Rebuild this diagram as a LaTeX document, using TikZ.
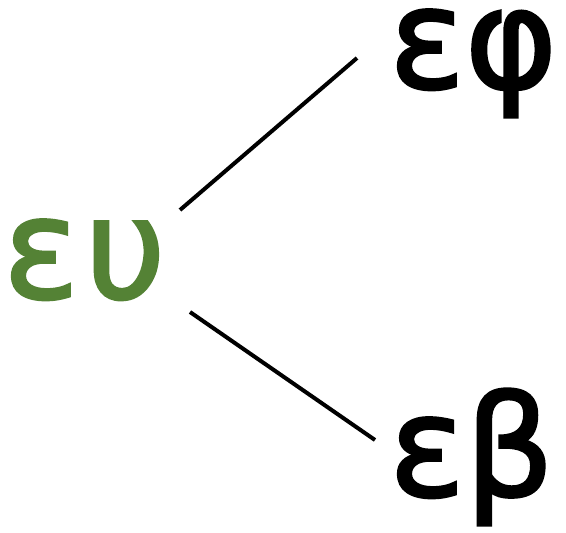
\documentclass[tikz,border=0pt]{standalone}
\usepackage{fontspec}
\newfontfamily\wordfont{DejaVu Sans}[FakeBold=2]
\definecolor{eugreen}{RGB}{84,130,53}
\begin{document}
\begin{tikzpicture}[x=1pt,y=-1pt,
  word/.style={inner sep=0pt, anchor=base west, text height=76pt, text depth=32pt, font=\wordfont\fontsize{140}{140}\selectfont},
  link/.style={line width=4pt}]
\useasboundingbox (0,0) rectangle (566,533);
\node[word, text=eugreen] (eu) at (3,298) {ε\kern6ptυ};
\node[word] (ephi) at (389,88) {εφ};
\node[word] (ebeta) at (389,496) {εβ};
\coordinate (s1) at ([shift={(177,-88)}]eu.base west);
\coordinate (s2) at ([shift={(187,14)}]eu.base west);
\coordinate (t1) at ([shift={(-32,-30)}]ephi.base west);
\coordinate (t2) at ([shift={(-14,-56)}]ebeta.base west);
\draw[link] (s1) -- (t1);
\draw[link] (s2) -- (t2);
\end{tikzpicture}
\end{document}
